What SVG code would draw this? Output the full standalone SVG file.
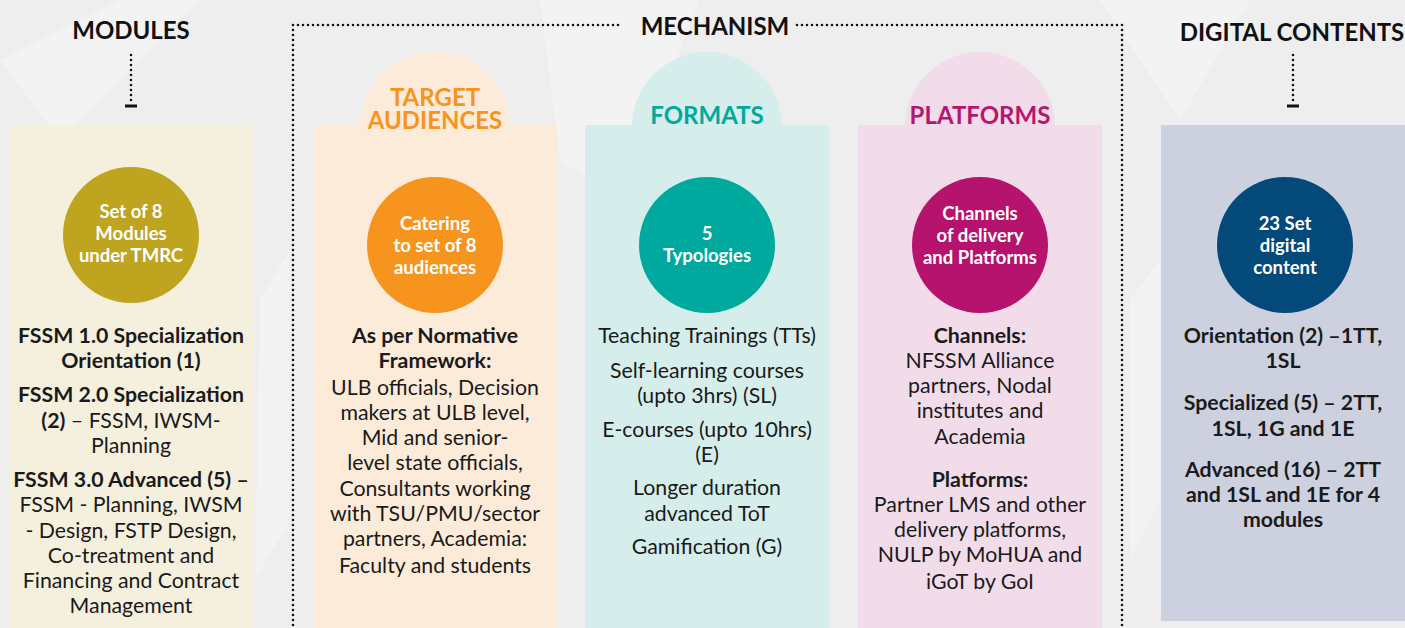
<svg xmlns="http://www.w3.org/2000/svg" width="1405" height="628" viewBox="0 0 1405 628">
<style>
  text { font-family: Lato, "Open Sans", "Liberation Sans", sans-serif; text-anchor: middle; }
  .title { font-size: 24px; font-weight: bold; fill: #111; }
  .head { font-size: 24px; font-weight: bold; }
  .ctext { font-size: 18.5px; font-weight: bold; fill: #fff; }
  .body { font-size: 21.3px; fill: #1a1a1a; }
  .b { font-weight: bold; }
  .dot { fill: none; stroke: #111; stroke-width: 2.6; stroke-linecap: round; stroke-dasharray: 0 5; }
  .bar { fill: #111; }
</style>
<rect x="0" y="0" width="1405" height="628" fill="#eeeeee"/>
<g opacity="0.5" fill="#f8f8f8">
  <polygon points="0,60 120,0 200,0 60,140"/>
  <polygon points="540,0 700,0 620,200 560,160"/>
  <polygon points="1100,0 1250,0 1180,120"/>
  <polygon points="1130,300 1160,260 1160,500 1130,560"/>
  <polygon points="260,300 290,250 290,520 255,580"/>
</g>

<g id="connectors">
  <polyline class="dot" points="618,25 293,25 293,628"/>
  <polyline class="dot" points="797,25 1122,25 1122,628"/>
  <line class="dot" x1="131" y1="55" x2="131" y2="104"/>
  <rect class="bar" x="125" y="104.5" width="12" height="3"/>
  <line class="dot" x1="1293" y1="55" x2="1293" y2="104"/>
  <rect class="bar" x="1287" y="104.5" width="12" height="3"/>
</g>

<g id="title-modules"><text class="title" x="131" y="39">MODULES</text></g>
<g id="title-mechanism"><text class="title" x="715" y="35">MECHANISM</text></g>
<g id="title-digital"><text class="title" x="1292" y="41">DIGITAL CONTENTS</text></g>

<g id="node-modules">
  <rect x="10" y="125" width="243" height="503" fill="#f5f0de"/>
  <circle cx="131" cy="235" r="68" fill="#bea41f"/>
  <text class="ctext" x="131" y="218">Set  of 8</text>
  <text class="ctext" x="131" y="240">Modules</text>
  <text class="ctext" x="131" y="262">under TMRC</text>
  <text class="body b" x="131" y="343">FSSM 1.0 Specialization</text>
  <text class="body b" x="131" y="368">Orientation (1)</text>
  <text class="body b" x="131" y="402">FSSM 2.0 Specialization</text>
  <text class="body" x="131" y="428"><tspan class="b">(2)</tspan> – FSSM, IWSM-</text>
  <text class="body" x="131" y="453">Planning</text>
  <text class="body b" x="131" y="487">FSSM 3.0 Advanced (5) –</text>
  <text class="body" x="131" y="512">FSSM - Planning, IWSM</text>
  <text class="body" x="131" y="538">- Design, FSTP Design,</text>
  <text class="body" x="131" y="563">Co-treatment and</text>
  <text class="body" x="131" y="588">Financing and Contract</text>
  <text class="body" x="131" y="613">Management</text>
</g>

<g id="node-target">
  <circle cx="435" cy="127" r="75" fill="#fdebd9"/>
  <rect x="313" y="125" width="244" height="503" fill="#fdebd9"/>
  <text class="head" x="435" y="106" fill="#f7941d">TARGET</text>
  <text class="head" x="435" y="129" fill="#f7941d">AUDIENCES</text>
  <circle cx="435" cy="245" r="68" fill="#f7941d"/>
  <text class="ctext" x="435" y="230">Catering</text>
  <text class="ctext" x="435" y="252">to set of 8</text>
  <text class="ctext" x="435" y="274">audiences</text>
  <text class="body b" x="435" y="343">As per Normative</text>
  <text class="body b" x="435" y="368">Framework:</text>
  <text class="body" x="435" y="395">ULB officials, Decision</text>
  <text class="body" x="435" y="420">makers at ULB level,</text>
  <text class="body" x="435" y="445">Mid and senior-</text>
  <text class="body" x="435" y="470">level state officials,</text>
  <text class="body" x="435" y="496">Consultants working</text>
  <text class="body" x="435" y="521">with TSU/PMU/sector</text>
  <text class="body" x="435" y="546">partners, Academia:</text>
  <text class="body" x="435" y="573">Faculty and students</text>
</g>

<g id="node-formats">
  <circle cx="707" cy="127" r="75" fill="#d5eeec"/>
  <rect x="585" y="125" width="244" height="503" fill="#d5eeec"/>
  <text class="head" x="707" y="124" fill="#00a99d">FORMATS</text>
  <circle cx="707" cy="245" r="68" fill="#00a99d"/>
  <text class="ctext" x="707" y="240">5</text>
  <text class="ctext" x="707" y="262">Typologies</text>
  <text class="body" x="707" y="343">Teaching Trainings (TTs)</text>
  <text class="body" x="707" y="378">Self-learning courses</text>
  <text class="body" x="707" y="403">(upto 3hrs) (SL)</text>
  <text class="body" x="707" y="437">E-courses (upto 10hrs)</text>
  <text class="body" x="707" y="462">(E)</text>
  <text class="body" x="707" y="495">Longer duration</text>
  <text class="body" x="707" y="521">advanced ToT</text>
  <text class="body" x="707" y="554">Gamification (G)</text>
</g>

<g id="node-platforms">
  <circle cx="980" cy="127" r="75" fill="#f2dcea"/>
  <rect x="858" y="125" width="244" height="503" fill="#f2dcea"/>
  <text class="head" x="980" y="124" fill="#b5176e">PLATFORMS</text>
  <circle cx="980" cy="245" r="68" fill="#b5136e"/>
  <text class="ctext" x="980" y="220">Channels</text>
  <text class="ctext" x="980" y="242">of delivery</text>
  <text class="ctext" x="980" y="264">and Platforms</text>
  <text class="body b" x="980" y="343">Channels:</text>
  <text class="body" x="980" y="368">NFSSM Alliance</text>
  <text class="body" x="980" y="393">partners, Nodal</text>
  <text class="body" x="980" y="418">institutes and</text>
  <text class="body" x="980" y="444">Academia</text>
  <text class="body b" x="980" y="487">Platforms:</text>
  <text class="body" x="980" y="512">Partner LMS and other</text>
  <text class="body" x="980" y="537">delivery platforms,</text>
  <text class="body" x="980" y="562">NULP by MoHUA and</text>
  <text class="body" x="980" y="589">iGoT by GoI</text>
</g>

<g id="node-digital">
  <rect x="1161" y="125" width="244" height="496" fill="#cdd1df"/>
  <circle cx="1285" cy="245" r="68" fill="#034a7a"/>
  <text class="ctext" x="1285" y="230">23 Set</text>
  <text class="ctext" x="1285" y="252">digital</text>
  <text class="ctext" x="1285" y="274">content</text>
  <text class="body b" x="1283" y="343">Orientation (2) –1TT,</text>
  <text class="body b" x="1283" y="368">1SL</text>
  <text class="body b" x="1283" y="410">Specialized (5) – 2TT,</text>
  <text class="body b" x="1283" y="436">1SL, 1G and 1E</text>
  <text class="body b" x="1283" y="477">Advanced (16) – 2TT</text>
  <text class="body b" x="1283" y="502">and 1SL and 1E for 4</text>
  <text class="body b" x="1283" y="527">modules</text>
</g>
</svg>
